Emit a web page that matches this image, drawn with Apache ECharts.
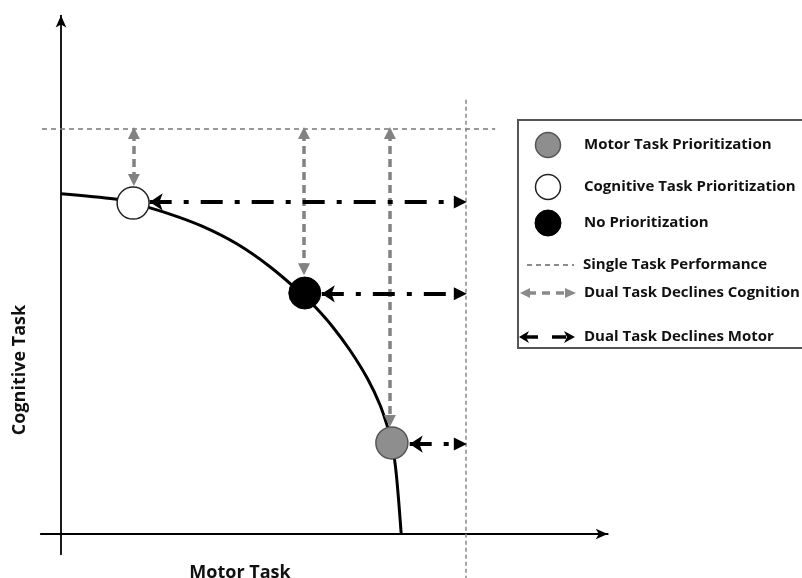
<!DOCTYPE html>
<html>
<head>
<meta charset="utf-8">
<script src="https://cdn.jsdelivr.net/npm/echarts@6/dist/echarts.min.js"></script>
<style>html,body{margin:0;padding:0;background:#fff}#chart{width:802px;height:578px}</style>
</head>
<body>
<div id="chart"></div>
<script>
// Trade-off curve (motor task on x, cognitive task on y)
const curveX = [0, 13.3, 17.8, 26.9, 35.1, 43.5, 51.6, 59.8, 63.2, 67.2, 71.4, 75.6, 78.8, 80.7, 81.7, 82.6, 83.3, 84.0];
const curveY = [84.0, 82.7, 81.7, 79.0, 75.9, 71.6, 66.0, 59.0, 55.6, 51.0, 45.3, 38.5, 31.8, 26.2, 22.5, 16.5, 9.1, 0];

// Prioritization points
const pointNames = ['Cognitive Task Prioritization', 'No Prioritization', 'Motor Task Prioritization'];
const pointX = [17.8, 60.2, 81.7];
const pointY = [81.7, 59.5, 22.5];

// Single task performance levels
const singleTaskMotor = 100;
const singleTaskCognitive = 100;
const singleTaskHLineX = [-4.7, 107.2];
const singleTaskVLineY = [107.2, -11];

// Dual-task decline arrows (end points of the arrow shafts)
const cogDeclineX = [18, 60, 81.2];
const cogDeclineTop = [99, 99, 99];
const cogDeclineBottom = [87.4, 65.4, 27.9];
const motorDeclineY = [82.0, 59.3, 22.2];
const motorDeclineLeft = [21.9, 64.4, 86.1];
const motorDeclineRight = [98.6, 98.6, 98.6];

const legendLabels = ['Motor Task Prioritization', 'Cognitive Task Prioritization', 'No Prioritization',
  'Single Task Performance', 'Dual Task Declines Cognition', 'Dual Task Declines Motor'];
const axisTitles = { x: 'Motor Task', y: 'Cognitive Task' };

const chart = echarts.init(document.getElementById('chart'), null, { renderer: 'canvas' });
const FONT = '"Open Sans", Lato, sans-serif';

const curveData = curveX.map((x, i) => [x, curveY[i]]);
const pointStyles = [
  { color: '#ffffff', borderColor: '#222', borderWidth: 1.5, opacity: 1 },
  { color: '#000000', borderColor: '#000', borderWidth: 1, opacity: 1 },
  { color: '#8e8e8e', borderColor: '#555', borderWidth: 1.5, opacity: 1 }
];
const pointData = pointX.map((x, i) => ({ name: pointNames[i], value: [x, pointY[i]], itemStyle: pointStyles[i] }));

const cogLines = cogDeclineX.map((x, i) => [{ coord: [x, cogDeclineTop[i]] }, { coord: [x, cogDeclineBottom[i]] }]);
const motorLines = motorDeclineY.map((y, i) => [{ coord: [motorDeclineLeft[i], y] }, { coord: [motorDeclineRight[i], y] }]);

// legend graphics
const LX = 518, LY = 120;
const legendRows = [145, 187, 223, 265, 293, 337];
const legendTextX = [584, 584, 584, 583, 584, 584];
const g = [];
g.push({ type: 'rect', shape: { x: LX, y: LY, width: 320, height: 228 }, style: { fill: '#fff', stroke: '#555', lineWidth: 2 }, z: 10 });
g.push({ type: 'circle', shape: { cx: 548, cy: legendRows[0], r: 12.5 }, style: { fill: '#8e8e8e', stroke: '#555', lineWidth: 1.5 }, z: 11 });
g.push({ type: 'circle', shape: { cx: 548, cy: legendRows[1], r: 12.5 }, style: { fill: '#fff', stroke: '#222', lineWidth: 1.5 }, z: 11 });
g.push({ type: 'circle', shape: { cx: 548, cy: legendRows[2], r: 13 }, style: { fill: '#000', stroke: '#000', lineWidth: 1 }, z: 11 });
g.push({ type: 'line', shape: { x1: 527, y1: legendRows[3], x2: 574, y2: legendRows[3] }, style: { stroke: '#666', lineWidth: 1.5, lineDash: [5, 4] }, z: 11 });
// gray arrow
g.push({ type: 'line', shape: { x1: 528, y1: legendRows[4], x2: 566, y2: legendRows[4] }, style: { stroke: '#8a8a8a', lineWidth: 3.5, lineDash: [8, 6] }, z: 11 });
g.push({ type: 'polygon', shape: { points: [[520, legendRows[4]], [530, legendRows[4] - 5], [530, legendRows[4] + 5]] }, style: { fill: '#8a8a8a' }, z: 11 });
g.push({ type: 'polygon', shape: { points: [[576, legendRows[4]], [565, legendRows[4] - 5], [565, legendRows[4] + 5]] }, style: { fill: '#8a8a8a' }, z: 11 });
// black arrow
g.push({ type: 'line', shape: { x1: 526, y1: legendRows[5], x2: 538, y2: legendRows[5] }, style: { stroke: '#000', lineWidth: 3.5 }, z: 11 });
g.push({ type: 'polygon', shape: { points: [[519, legendRows[5]], [529, legendRows[5] - 6], [526, legendRows[5]], [529, legendRows[5] + 6]] }, style: { fill: '#000' }, z: 11 });
g.push({ type: 'line', shape: { x1: 552, y1: legendRows[5], x2: 566, y2: legendRows[5] }, style: { stroke: '#000', lineWidth: 3.5 }, z: 11 });
g.push({ type: 'polygon', shape: { points: [[575, legendRows[5]], [564, legendRows[5] - 6], [567, legendRows[5]], [564, legendRows[5] + 6]] }, style: { fill: '#000' }, z: 11 });
legendLabels.forEach((t, i) => {
  g.push({ type: 'text', x: legendTextX[i], y: legendRows[i], style: { text: t, font: 'bold 15px ' + FONT, fill: '#111', verticalAlign: 'middle' }, z: 12 });
});
// axis titles
g.push({ type: 'text', x: 20, y: 370, rotation: Math.PI / 2, style: { text: axisTitles.y, font: 'bold 18px ' + FONT, fill: '#111', align: 'center', verticalAlign: 'middle' }, z: 12 });
g.push({ type: 'text', x: 240, y: 573, style: { text: axisTitles.x, font: 'bold 18px ' + FONT, fill: '#111', align: 'center', verticalAlign: 'middle' }, z: 12 });

const option = {
  backgroundColor: '#ffffff',
  animation: false,
  grid: { left: 40.75, right: 194.25, top: 15.6, bottom: 23.75, containLabel: false },
  xAxis: {
    type: 'value', min: -5, max: 135,
    axisLine: { onZero: true, symbol: ['none', 'arrow'], symbolSize: [8, 12], lineStyle: { color: '#000', width: 1.8 } },
    axisTick: { show: false }, axisLabel: { show: false }, splitLine: { show: false }
  },
  yAxis: {
    type: 'value', min: -5, max: 128,
    axisLine: { onZero: true, symbol: ['none', 'arrow'], symbolSize: [8, 12], lineStyle: { color: '#000', width: 1.8 } },
    axisTick: { show: false }, axisLabel: { show: false }, splitLine: { show: false }
  },
  series: [
    {
      name: 'Single Task Performance (cognitive)', type: 'line', clip: false, symbol: 'none', silent: true,
      data: [[singleTaskHLineX[0], singleTaskCognitive], [singleTaskHLineX[1], singleTaskCognitive]],
      lineStyle: { color: '#777', width: 1.5, type: [5, 4] }, z: 1
    },
    {
      name: 'Single Task Performance (motor)', type: 'line', clip: false, symbol: 'none', silent: true,
      data: [[singleTaskMotor, singleTaskVLineY[0]], [singleTaskMotor, singleTaskVLineY[1]]],
      lineStyle: { color: '#888', width: 1.5, type: [4, 3] }, z: 1
    },
    {
      name: 'Dual Task Declines Cognition', type: 'line', data: [], silent: true,
      markLine: {
        silent: true, symbol: ['triangle', 'triangle'], symbolSize: 12, label: { show: false },
        lineStyle: { color: '#828282', width: 3.5, type: [8, 5] },
        emphasis: { disabled: true },
        data: cogLines
      }, z: 3
    },
    {
      name: 'Dual Task Declines Motor', type: 'line', data: [], silent: true,
      markLine: {
        silent: true, symbol: ['arrow', 'triangle'], symbolSize: 13, label: { show: false },
        lineStyle: { color: '#000', width: 4, type: [22, 12, 5, 12] },
        emphasis: { disabled: true },
        data: motorLines
      }, z: 3
    },
    {
      name: 'Trade-off curve', type: 'line', smooth: 0.3, symbol: 'none', silent: true,
      data: curveData, lineStyle: { color: '#000', width: 3 }, z: 4
    },
    {
      name: 'Prioritization', type: 'scatter', symbol: 'circle', symbolSize: 32, silent: true,
      data: pointData, itemStyle: { opacity: 1 }, z: 6
    }
  ],
  graphic: g
};
chart.setOption(option);
</script>
</body>
</html>
